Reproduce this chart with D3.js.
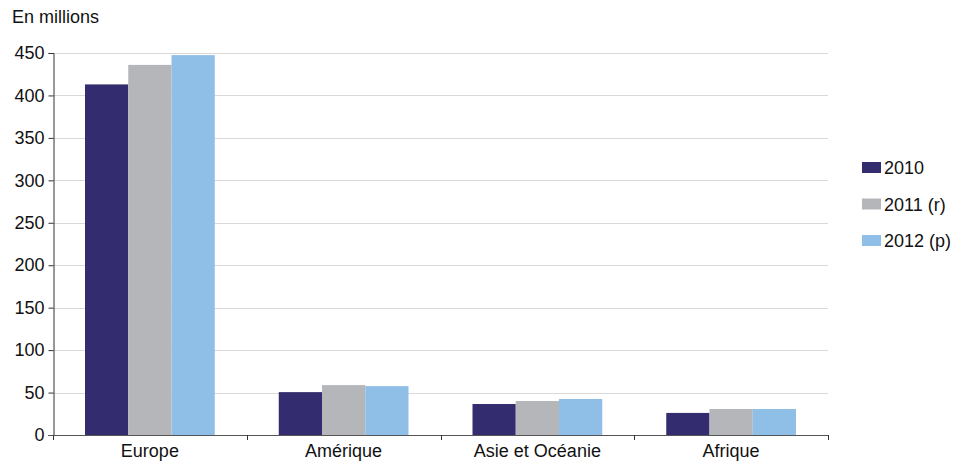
<!DOCTYPE html>
<html><head><meta charset="utf-8">
<script src="https://cdn.jsdelivr.net/npm/d3@7"></script>
<style>body{margin:0;background:#fff}svg{font-family:"Liberation Sans",Arial,sans-serif}</style>
</head><body><svg id="c" width="957" height="462"></svg>
<script>
const categories = ["Europe", "Amérique", "Asie et Océanie", "Afrique"];
const seriesNames = ["2010", "2011 (r)", "2012 (p)"];
const values2010 = [413, 50.5, 36.5, 26];
const values2011 = [436, 58.8, 40, 30.6];
const values2012 = [447.5, 57.6, 42.4, 30.6];
const yTicks = [0, 50, 100, 150, 200, 250, 300, 350, 400, 450];
const colors = ["#332C6E", "#B5B6BA", "#8FBFE6"];
const seriesValues = [values2010, values2011, values2012];

(function () {
const svg = d3.select("#c");
const FS = 18;
const mLeft = 53, mRight = 828, mTop = 53, mBottom = 435;
const x = d3.scaleBand().domain(categories).range([mLeft, mRight]).paddingInner(0).paddingOuter(0);
const x1 = d3.scaleBand().domain(seriesNames).range([0, x.bandwidth()]).paddingOuter(0.74).paddingInner(0);
const y = d3.scaleLinear().domain([0, 450]).range([mBottom, mTop]);

// gridlines
svg.append("g").selectAll("line").data(yTicks.filter(d => d > 0)).join("line")
  .attr("x1", mLeft).attr("x2", mRight).attr("y1", d => Math.round(y(d)) + 0.5).attr("y2", d => Math.round(y(d)) + 0.5)
  .attr("stroke", "#d9d9d9").attr("stroke-width", 1);

// bars
seriesNames.forEach((s, i) => {
  svg.append("g").selectAll("rect").data(categories).join("rect")
    .attr("x", c => x(c) + x1(s))
    .attr("width", x1.bandwidth())
    .attr("y", (c, j) => y(seriesValues[i][j]))
    .attr("height", (c, j) => mBottom - y(seriesValues[i][j]))
    .attr("fill", colors[i]);
});

// y axis
const yAxis = svg.append("g").attr("transform", `translate(${mLeft + 0.5},0)`)
  .call(d3.axisLeft(y).tickValues(yTicks).tickSize(5).tickPadding(4));
yAxis.select(".domain").attr("stroke", "#333");
yAxis.selectAll(".tick line").attr("stroke", "#333");
yAxis.selectAll("text").attr("font-size", FS).attr("fill", "#111").attr("font-family", "Liberation Sans, Arial, sans-serif");

// x axis
const boundaries = categories.map(c => x(c)).concat([mRight]);
svg.append("line").attr("x1", mLeft - 5).attr("x2", mRight).attr("y1", mBottom + 0.5).attr("y2", mBottom + 0.5).attr("stroke", "#555");
svg.append("g").selectAll("line").data(boundaries).join("line")
  .attr("x1", d => Math.round(d) + 0.5).attr("x2", d => Math.round(d) + 0.5).attr("y1", mBottom).attr("y2", mBottom + 5).attr("stroke", "#333");
svg.append("g").selectAll("text").data(categories).join("text")
  .attr("x", c => x(c) + x.bandwidth() / 2).attr("y", 457)
  .attr("text-anchor", "middle").attr("font-size", FS).attr("fill", "#111").text(c => c);

svg.append("text").attr("x", 12).attr("y", 23).attr("font-size", FS).attr("fill", "#111").text("En millions");

// legend
const lg = svg.append("g").selectAll("g").data(seriesNames).join("g")
  .attr("transform", (d, i) => `translate(862,${162 + i * 36.5})`);
lg.append("rect").attr("width", 19).attr("height", 11).attr("fill", (d, i) => colors[i]);
lg.append("text").attr("x", 22).attr("y", 12).attr("font-size", FS).attr("fill", "#111").text(d => d);
})();
</script></body></html>
